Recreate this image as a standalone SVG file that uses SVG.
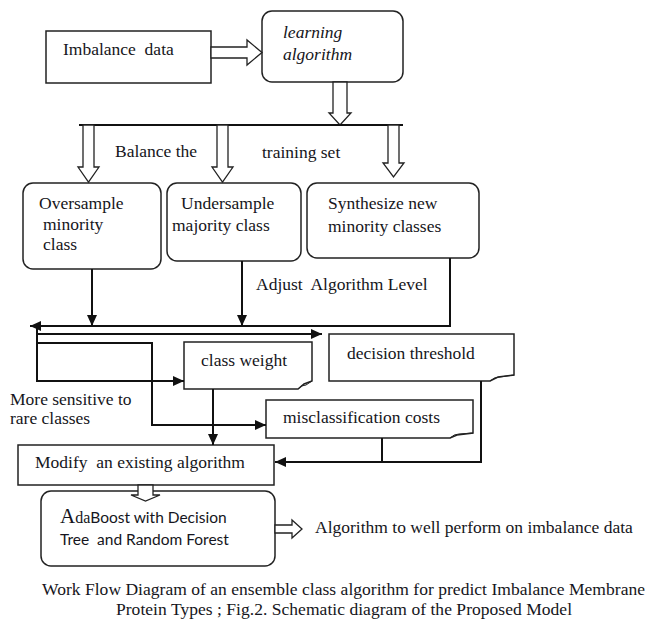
<svg xmlns="http://www.w3.org/2000/svg" width="649" height="620" viewBox="0 0 649 620">
<defs>
<marker id="ah" markerUnits="userSpaceOnUse" markerWidth="12" markerHeight="12" viewBox="0 0 12 12" refX="11" refY="6" orient="auto">
<path d="M0,1 L11,6 L0,11 Z" fill="#111"/>
</marker>
</defs>
<style>
text{font-family:"Liberation Serif","Times New Roman",serif;font-size:17.5px;fill:#151520;white-space:pre}
.box{fill:#fff;stroke:#222;stroke-width:1.5}
.blk{fill:#fff;stroke:#222;stroke-width:1.3}
.ln{fill:none;stroke:#111;stroke-width:2}
.arr{fill:none;stroke:#111;stroke-width:2;marker-end:url(#ah)}
.it{font-style:italic}
.sans{font-family:Lato,"Liberation Sans",sans-serif;font-size:15.5px}
</style>
<rect width="649" height="620" fill="#fff"/>

<g id="imbalance">
<rect class="box" x="46" y="31" width="165" height="52"/>
<text x="63" y="55" xml:space="preserve">Imbalance  data</text>
</g>
<g id="learning">
<rect class="box" x="262" y="11" width="141" height="71" rx="10"/>
<text class="it" x="283" y="38">learning</text>
<text class="it" x="283" y="60">algorithm</text>
</g>

<g id="balance-label">
<text x="115" y="157">Balance the</text>
<text x="262" y="158">training set</text>
</g>

<g id="oversample">
<rect class="box" x="23" y="183" width="138" height="86" rx="10"/>
<text x="39" y="209">Oversample</text>
<text x="43" y="230">minority</text>
<text x="43" y="250">class</text>
</g>
<g id="undersample">
<rect class="box" x="167" y="183" width="134" height="78" rx="10"/>
<text x="181" y="209">Undersample</text>
<text x="172" y="231">majority class</text>
</g>
<g id="synthesize">
<rect class="box" x="307" y="183" width="172" height="75" rx="10"/>
<text x="328" y="209">Synthesize new</text>
<text x="328" y="232">minority classes</text>
</g>

<g id="adjust-label">
<text x="256" y="290" xml:space="preserve">Adjust  Algorithm Level</text>
</g>

<g id="class-weight">
<path class="box" d="M184,342 H312 V381 L304,384 L298,389 H184 Z"/>
<path d="M298,389 Q301,385 306,385 L312,381" fill="none" stroke="#222" stroke-width="1"/>
<text x="201" y="366">class weight</text>
</g>
<g id="decision-threshold">
<path class="box" d="M329,334 H514 V375 L498,377 L490,381 H329 Z"/>
<path d="M490,381 Q494,377 500,377 L514,375" fill="none" stroke="#222" stroke-width="1"/>
<text x="347" y="359">decision threshold</text>
</g>
<g id="misclassification">
<path class="box" d="M266,400 H473 V433 L457,435 L450,438 H266 Z"/>
<path d="M450,438 Q454,434 459,434 L473,433" fill="none" stroke="#222" stroke-width="1"/>
<text x="283" y="423">misclassification costs</text>
</g>

<g id="sensitive-label">
<text x="10" y="405">More sensitive to</text>
<text x="10" y="424">rare classes</text>
</g>

<g id="modify">
<rect class="box" x="18" y="445" width="256" height="40"/>
<text x="35" y="468" xml:space="preserve">Modify  an existing algorithm</text>
</g>
<g id="adaboost">
<rect class="box" x="41" y="491" width="234" height="75" rx="10"/>
<text x="60" y="523"><tspan font-size="21">A</tspan><tspan font-size="16">da</tspan><tspan class="sans">Boost with Decision</tspan></text>
<text class="sans" x="60" y="545" xml:space="preserve">Tree  and Random Forest</text>
</g>
<g id="result">
<text x="315" y="533">Algorithm to well perform on imbalance data</text>
</g>

<g id="connectors">
<polygon class="blk" points="211,47 247,47 247,40 262,52.5 247,65 247,58 211,58"/>
<polygon class="blk" points="333,82 347,82 347,113 351,113 340,125 329,113 333,113"/>
<line class="ln" x1="79" y1="125" x2="403" y2="125" stroke-width="1.5"/>
<polygon class="blk" points="83,125 94,125 94,167 99,167 88.5,182 78,167 83,167"/>
<polygon class="blk" points="217,125 228,125 228,167 233,167 222.5,182 212,167 217,167"/>
<polygon class="blk" points="388,125 399,125 399,163 404,163 393.5,177 383,163 388,163"/>

<line class="arr" x1="92" y1="269" x2="92" y2="326"/>
<line class="arr" x1="242" y1="261" x2="242" y2="326"/>
<polyline class="arr" points="450,258 450,326 30,326"/>
<polyline class="arr" points="37,327 37,381 184,381"/>
<line class="arr" x1="37" y1="334" x2="322" y2="334"/>
<polyline class="arr" points="37,343 152,343 152,425 266,425"/>
<line class="arr" x1="213" y1="389" x2="213" y2="445"/>
<polyline class="arr" points="481,381 481,462 275,462"/>
<line class="ln" x1="382" y1="438" x2="382" y2="462"/>

<polygon class="blk" points="138,485 153,485 153,495 160,495 145.5,501 131,495 138,495"/>
<polygon class="blk" points="275,525 292,525 292,520 302,529 292,538 292,533 275,533"/>
</g>

<g id="caption">
<text x="42" y="595" textLength="603" lengthAdjust="spacing">Work Flow Diagram of an ensemble class algorithm for predict Imbalance Membrane</text>
<text x="116" y="615" textLength="456" lengthAdjust="spacing">Protein Types ; Fig.2. Schematic diagram of the Proposed Model</text>
</g>
</svg>
